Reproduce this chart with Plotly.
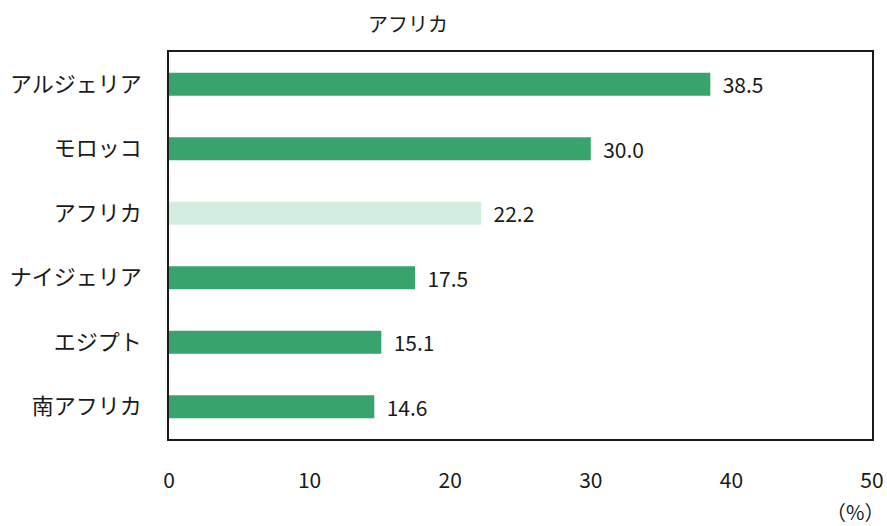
import plotly.graph_objects as go

categories = ["アルジェリア", "モロッコ", "アフリカ", "ナイジェリア", "エジプト", "南アフリカ"]
values = [38.5, 30.0, 22.2, 17.5, 15.1, 14.6]
highlight = "アフリカ"
x_ticks = [0, 10, 20, 30, 40, 50]

GREEN = "#38A36C"
LIGHT = "#D3EEE0"
FONT = "Noto Sans CJK JP, Meiryo, sans-serif"
INK = "#1a1a1a"

colors = [LIGHT if c == highlight else GREEN for c in categories]

fig = go.Figure()
fig.add_trace(go.Bar(
    x=values, y=categories,
    orientation="h",
    marker=dict(color=colors, line=dict(width=0)),
    width=0.36,
    text=[f"\u00a0\u00a0{v:.1f}" for v in values],
    textposition="outside",
    constraintext="none",
    textfont=dict(size=21, color=INK, family=FONT),
    cliponaxis=False,
    hoverinfo="skip",
))

# chart title sits left of centre, over the plot
fig.add_annotation(
    x=(408 - 169) / (872 - 169), y=1, xref="paper", yref="paper",
    yanchor="bottom", yshift=12,
    text="アフリカ", showarrow=False,
    font=dict(size=20, color=INK, family=FONT),
)
# unit label under the last tick
fig.add_annotation(
    x=1, y=0, xref="paper", yref="paper",
    xanchor="right", yanchor="top", yshift=-56, xshift=14,
    text="（%）", showarrow=False,
    font=dict(size=20, color=INK, family=FONT),
)

fig.update_layout(
    width=887, height=526,
    margin=dict(l=169, r=15, t=52, b=87, autoexpand=False),
    plot_bgcolor="white",
    paper_bgcolor="white",
    showlegend=False,
    font=dict(family=FONT, size=21, color=INK),
    xaxis=dict(
        range=[0, 50],
        tickvals=x_ticks,
        showgrid=False, zeroline=False,
        showline=True, linecolor=INK, linewidth=1.5, mirror=True,
        ticks="",
        ticklabelstandoff=22,
        tickfont=dict(size=21),
        automargin=False,
    ),
    yaxis=dict(
        categoryorder="array",
        categoryarray=categories[::-1],
        showgrid=False, zeroline=False,
        showline=True, linecolor=INK, linewidth=1.5, mirror=True,
        ticks="",
        ticklabelstandoff=21,
        tickfont=dict(size=22),
        automargin=False,
    ),
)

# drop the default body margin so the 887x526 figure fills the window exactly
fig.write_html(
    "out.html",
    config={"displayModeBar": False},
    post_script="document.body.style.margin='0';"
                "document.documentElement.style.overflow='hidden';",
)
